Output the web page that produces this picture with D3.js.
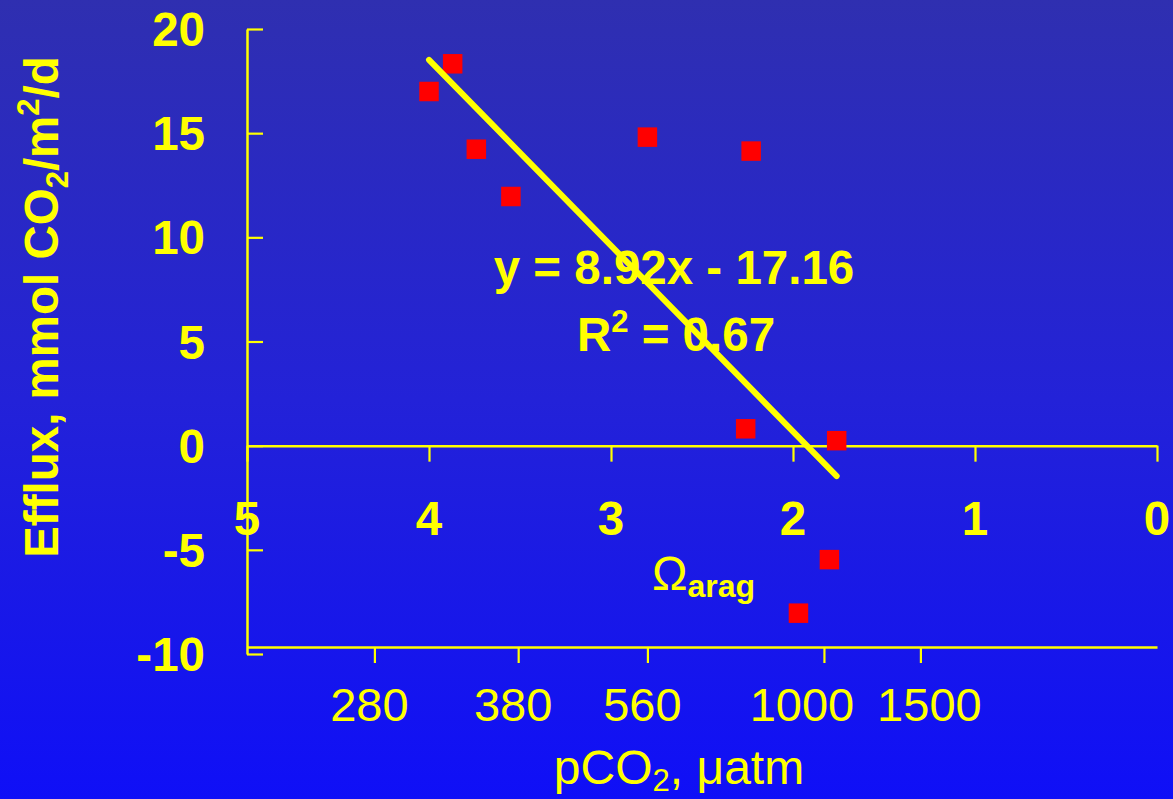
<!DOCTYPE html>
<html><head><meta charset="utf-8">
<script src="https://cdn.jsdelivr.net/npm/d3@7"></script>
<style>html,body{margin:0;padding:0;overflow:hidden;background:#1a1ae0}svg{display:block}</style>
</head><body>
<svg id="c" width="1173" height="799"></svg>
<script>
// ---- data ----
const omega  = [4.00, 3.87, 3.74, 3.55, 2.80, 2.23, 2.26, 1.76, 1.80, 1.97];
const efflux = [17.00, 18.33, 14.23, 11.96, 14.81, 14.14, 0.81, 0.24, -5.47, -8.04];
const omegaTicks  = [5, 4, 3, 2, 1, 0];
const effluxTicks = [20, 15, 10, 5, 0, -5, -10];
const pco2Labels  = ["280", "380", "560", "1000", "1500"];
const pco2Omega   = [4.30, 3.51, 2.80, 1.83, 1.30];
const slope = 8.92, intercept = -17.16, r2 = 0.67;

// ---- drawing ----
const W = 1173, H = 799;
const svg = d3.select("#c");
const YEL = "#ffff00";
const FONT = "'Liberation Sans', Arial, Helvetica, sans-serif";
const FS = 47.5;

const defs = svg.append("defs");
const grad = defs.append("linearGradient").attr("id","bg").attr("x1",0).attr("y1",0).attr("x2",0).attr("y2",1);
grad.append("stop").attr("offset","0%").attr("stop-color","#2f2fb0");
grad.append("stop").attr("offset","50%").attr("stop-color","#2322d8");
grad.append("stop").attr("offset","100%").attr("stop-color","#0f0ff7");
svg.append("rect").attr("width",W).attr("height",H).attr("fill","url(#bg)");

const x = d3.scaleLinear().domain([5, 0]).range([247, 1157]);
const y = d3.scaleLinear().domain([20, -10]).range([29, 654]);

function styleAxis(g){
  g.selectAll("path.domain").attr("stroke", YEL).attr("stroke-width", 2.5);
  g.selectAll(".tick line").attr("stroke", YEL).attr("stroke-width", 2.2);
  g.selectAll(".tick text").remove();
}

// y axis (ticks to the right)
svg.append("g").attr("transform",`translate(${x(5)},0)`)
  .call(d3.axisRight(y).tickValues(effluxTicks).tickSize(16).tickSizeOuter(0))
  .call(styleAxis);

// omega axis at y=0 (ticks down)
svg.append("g").attr("transform",`translate(0,${y(0)})`)
  .call(d3.axisBottom(x).tickValues(omegaTicks).tickSize(16).tickSizeOuter(0))
  .call(styleAxis);

// pCO2 axis near bottom
const pY = y(-10) - 7;
svg.append("g").attr("transform",`translate(0,${pY})`)
  .call(d3.axisBottom(x).tickValues(pco2Omega).tickSize(16).tickSizeOuter(0))
  .call(styleAxis);

// y tick labels
svg.append("g").selectAll("text").data(effluxTicks).join("text")
  .attr("x", 205).attr("y", d => y(d)).attr("dy","0.36em")
  .attr("text-anchor","end").attr("fill",YEL)
  .attr("font-family",FONT).attr("font-weight","bold").attr("font-size",FS)
  .text(d => d);

// omega tick labels
svg.append("g").selectAll("text").data(omegaTicks).join("text")
  .attr("x", d => x(d)).attr("y", 535)
  .attr("text-anchor","middle").attr("fill",YEL)
  .attr("font-family",FONT).attr("font-weight","bold").attr("font-size",FS)
  .text(d => d);

// pCO2 tick labels (small nudges as in the original layout)
const labelNudge = [-5, -5, -5, -22, 9];
svg.append("g").selectAll("text").data(pco2Labels).join("text")
  .attr("x", (d,i) => x(pco2Omega[i]) + labelNudge[i]).attr("y", 721)
  .attr("text-anchor","middle").attr("fill",YEL)
  .attr("font-family",FONT).attr("font-size",47)
  .text(d => d);

// pCO2 title
const pt = svg.append("text").attr("x", 679).attr("y", 784)
  .attr("text-anchor","middle").attr("fill",YEL)
  .attr("font-family",FONT).attr("font-size",48);
pt.append("tspan").text("pCO");
pt.append("tspan").attr("font-size",31).attr("dy",7).text("2");
pt.append("tspan").attr("dy",-7).text(", \u03bcatm");

// Omega arag label
const ot = svg.append("text").attr("x", 652).attr("y", 590)
  .attr("fill",YEL).attr("font-family",FONT).attr("font-size",FS);
ot.append("tspan").text("\u03a9");
ot.append("tspan").attr("font-size",32).attr("font-weight","bold").attr("dy",7).text("arag");

// y axis title
const yt = svg.append("text")
  .attr("transform","translate(58,307) rotate(-90)")
  .attr("text-anchor","middle").attr("fill",YEL)
  .attr("font-family",FONT).attr("font-weight","bold").attr("font-size",FS);
yt.append("tspan").text("Efflux, mmol CO");
yt.append("tspan").attr("font-size",31).attr("dy",10).text("2");
yt.append("tspan").attr("dy",-10).text("/m");
yt.append("tspan").attr("font-size",31).attr("dy",-19).text("2");
yt.append("tspan").attr("dy",19).text("/d");

// data squares
const S = 19.5;
svg.append("g").selectAll("rect").data(omega.map((o,i)=>({o, e: efflux[i]}))).join("rect")
  .attr("x", d => x(d.o) - S/2).attr("y", d => y(d.e) - S/2)
  .attr("width", S).attr("height", S).attr("fill","#ff0000");

// regression line
const ext = d3.extent(omega);
const reg = ext.map(o => [x(o), y(slope*o + intercept)]);
svg.append("path").attr("d", d3.line()(reg))
  .attr("stroke", YEL).attr("stroke-width", 6).attr("stroke-linecap","round").attr("fill","none");

// equation
svg.append("text").attr("x", 674).attr("y", 284)
  .attr("text-anchor","middle").attr("fill",YEL)
  .attr("font-family",FONT).attr("font-weight","bold").attr("font-size",FS)
  .text(`y = ${slope}x - ${Math.abs(intercept)}`);
const rt = svg.append("text").attr("x", 676).attr("y", 351)
  .attr("text-anchor","middle").attr("fill",YEL)
  .attr("font-family",FONT).attr("font-weight","bold").attr("font-size",FS);
rt.append("tspan").text("R");
rt.append("tspan").attr("font-size",31).attr("dy",-19).text("2");
rt.append("tspan").attr("dy",19).text(` = ${r2}`);
</script>
</body></html>
